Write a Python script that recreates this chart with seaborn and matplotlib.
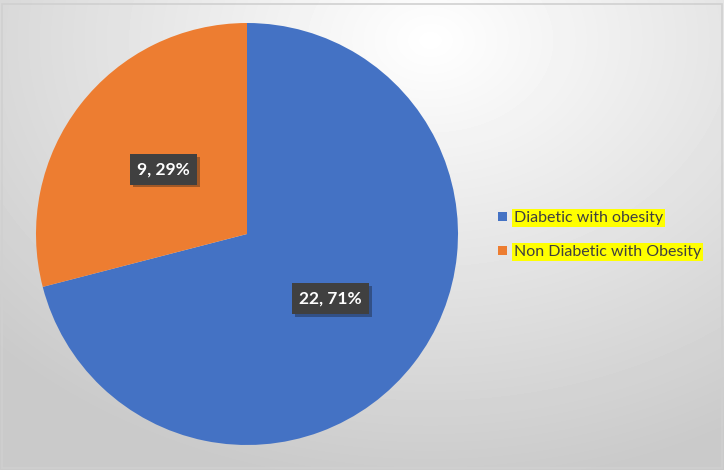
import numpy as np
import matplotlib
matplotlib.use('Agg')
import matplotlib.pyplot as plt
import matplotlib.patheffects as pe
from matplotlib.patches import Rectangle
import seaborn as sns

# data
categories = ['Diabetic with obesity', 'Non Diabetic with Obesity']
counts = [22, 9]
colors = ['#4472C4', '#ED7D31']

sns.set_theme(style='white')
plt.rcParams['font.family'] = ['Lato', 'DejaVu Sans']

W, H = 724, 470
fig = plt.figure(figsize=(W / 100, H / 100), dpi=100)

# radial gradient background (Excel style)
bg = fig.add_axes([0, 0, 1, 1], zorder=0)
yy, xx = np.mgrid[0:H, 0:W]
d = np.sqrt(((xx - 430) / 600.0) ** 2 + ((yy - 40) / 450.0) ** 2)
shade = 1 - 0.21 * np.clip(d, 0, 1)
bg.imshow(shade, cmap='gray', vmin=0, vmax=1, aspect='auto', extent=[0, W, H, 0])
bg.set_xlim(0, W)
bg.set_ylim(H, 0)
bg.axis('off')
bg.add_patch(Rectangle((1.5, 3.5), W - 4, H - 6, fill=False, edgecolor='#D0D0D0', lw=1.2))

# pie axes
cx, cy, r = 247, 234, 211
ax = fig.add_axes([(cx - r) / W, (H - cy - r) / H, 2 * r / W, 2 * r / H], zorder=1)
total = sum(counts)


def fmt(p):
    return '{:d}, {:.0f}%'.format(int(round(p * total / 100)), p)


wedges, _, autotexts = ax.pie(counts, colors=sns.color_palette(colors), startangle=90,
                              counterclock=False, autopct=fmt, pctdistance=0.5,
                              wedgeprops=dict(linewidth=0),
                              textprops=dict(color='white', fontsize=12.5, fontweight='bold'))
ax.set_xlim(-1, 1)
ax.set_ylim(-1, 1)
ax.set_aspect('auto')

for t in autotexts:
    t.set_bbox(dict(facecolor='#404040', edgecolor='none', boxstyle='square,pad=0.42'))
    t.get_bbox_patch().set_path_effects([pe.SimplePatchShadow(offset=(2, -2), alpha=0.35), pe.Normal()])

leg = fig.legend(wedges, categories, loc='center left', bbox_to_anchor=(498 / W, (H - 235) / H),
                 frameon=False, fontsize=11.5, handlelength=0.55, handleheight=0.55,
                 handletextpad=0.45, labelspacing=1.25, borderpad=0, borderaxespad=0)
for t in leg.get_texts():
    t.set_color('#404040')
    t.set_bbox(dict(facecolor='#FFFF00', edgecolor='none', pad=1.5))

fig.savefig('out.png', dpi=100)
